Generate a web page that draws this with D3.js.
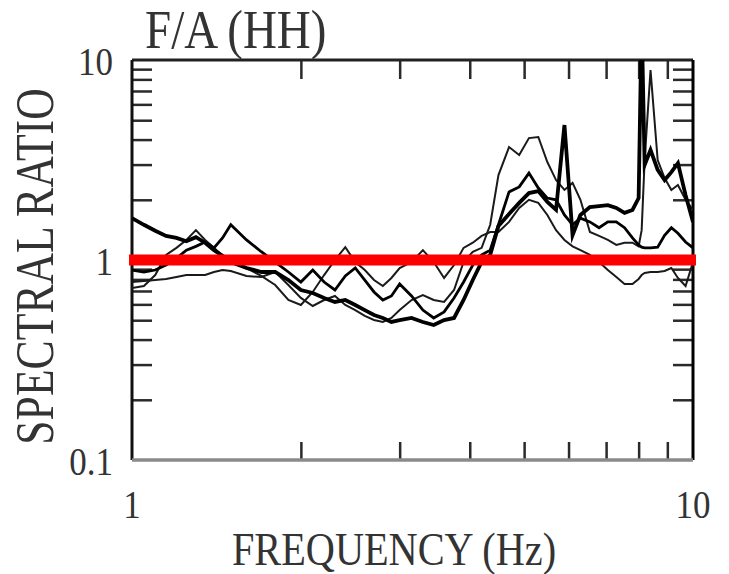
<!DOCTYPE html>
<html>
<head>
<meta charset="utf-8">
<script src="https://cdn.jsdelivr.net/npm/d3@7/dist/d3.min.js"></script>
<style>
  html, body { margin: 0; padding: 0; background: #fff; }
  svg { display: block; }
  text { font-family: "Liberation Serif", "Times New Roman", serif; fill: #333; }
</style>
</head>
<body>
<svg id="chart" width="729" height="574"></svg>
<script>
// ---- data ----
const title = "F/A (HH)";
const xLabel = "FREQUENCY (Hz)";
const yLabel = "SPECTRAL RATIO";
const xTickLabels = [1, 10];
const yTickLabels = [0.1, 1, 10];
const xMinorTicks = [2, 3, 4, 5, 6, 7, 8, 9];
const yMinorTicks = [0.2, 0.3, 0.4, 0.5, 0.6, 0.7, 0.8, 0.9, 2, 3, 4, 5, 6, 7, 8, 9];
const referenceLevel = 1;

const freqs = [1.00,1.05,1.10,1.15,1.20,1.25,1.30,1.35,1.40,1.45,1.50,
  1.60,1.70,1.80,1.90,2.00,2.10,2.20,2.30,2.40,2.50,2.60,2.70,2.80,2.90,3.00,
  3.15,3.30,3.45,3.60,3.75,3.90,4.05,4.20,4.35,4.50,
  4.70,4.90,5.10,5.30,5.50,5.70,5.90,6.10,6.30,
  6.55,6.80,7.05,7.30,7.55,7.80,
  8.00,8.10,8.20,8.40,
  8.65,8.90,9.15,9.40,
  9.70,10.0];

const series1 = [1.62,1.50,1.40,1.32,1.29,1.24,1.30,1.22,1.12,1.05,0.977,
  0.912,0.871,0.871,0.794,0.708,0.684,0.646,0.617,0.631,0.596,0.562,0.531,0.513,0.490,0.501,
  0.513,0.490,0.473,0.501,0.513,0.631,0.794,0.977,1.06,1.48,
  1.70,1.93,2.16,2.21,1.95,1.78,4.73,1.33,1.68,
  1.84,1.86,1.88,1.82,1.72,1.78,
  2.04,16,2.99,3.55,
  2.82,2.51,2.75,3.05,
  2.11,1.55];

const series2 = [0.891,0.871,0.891,0.944,1.02,1.12,1.17,1.23,1.15,1.29,1.50,
  1.26,1.10,0.977,0.871,0.776,0.891,0.776,0.708,0.832,0.912,0.794,0.692,0.631,0.661,0.759,
  0.661,0.562,0.513,0.550,0.646,0.776,0.944,1.06,1.12,1.50,
  2.19,2.32,2.72,2.29,2.04,2.00,1.68,1.50,1.62,
  1.55,1.45,1.55,1.55,1.45,1.29,
  1.19,1.16,1.15,1.15,
  1.16,1.33,1.45,1.36,
  1.23,1.15];

const series3 = [0.776,0.785,0.794,0.804,0.822,0.841,0.841,0.841,0.871,0.891,0.881,
  0.832,0.822,0.871,0.750,0.646,0.589,0.631,0.661,0.596,0.562,0.525,0.501,0.490,0.513,0.562,
  0.631,0.668,0.631,0.617,0.708,0.977,1.10,1.15,1.50,2.66,
  3.67,3.35,4.07,4.12,3.09,2.51,2.24,2.43,2.00,
  1.38,1.32,1.26,1.19,1.22,1.22,
  1.17,1.41,3.16,8.91,
  3.16,2.57,2.24,2.37,
  2.00,1.78];

const series4 = [0.724,0.741,0.841,1.06,1.15,1.26,1.41,1.26,1.15,1.05,0.977,
  0.912,0.832,0.750,0.631,0.596,0.692,0.841,1.00,1.16,0.977,0.891,0.794,0.741,0.813,0.912,
  0.977,1.12,0.977,0.813,0.944,1.15,1.22,1.32,1.38,1.38,
  1.55,1.82,2.00,1.93,1.68,1.41,1.26,1.17,1.12,
  1.06,0.977,0.891,0.822,0.759,0.759,
  0.804,0.841,0.861,0.871,
  0.871,0.881,0.912,0.813,
  0.741,0.977];

// ---- layout ----
const L = 132, R = 693, T = 60, B = 460;
const svg = d3.select("#chart");
const x = d3.scaleLog().domain([1, 10]).range([L, R]);
const y = d3.scaleLog().domain([0.1, 10]).range([B, T]);

svg.append("clipPath").attr("id", "plotclip")
  .append("rect").attr("x", L).attr("y", T).attr("width", R - L).attr("height", B - T);

// minor ticks (inward)
function styleTicks(g) {
  g.select(".domain").remove();
  g.selectAll(".tick line").attr("stroke", "#2a2a2a").attr("stroke-width", 2.5);
}
svg.append("g").attr("transform", `translate(0,${B})`)
  .call(d3.axisBottom(x).tickValues(xMinorTicks).tickSize(-18).tickFormat(""))
  .call(styleTicks);
svg.append("g").attr("transform", `translate(0,${T})`)
  .call(d3.axisTop(x).tickValues(xMinorTicks).tickSize(-19).tickFormat(""))
  .call(styleTicks);
svg.append("g").attr("transform", `translate(${L},0)`)
  .call(d3.axisLeft(y).tickValues(yMinorTicks).tickSize(-20).tickFormat(""))
  .call(styleTicks);
svg.append("g").attr("transform", `translate(${R},0)`)
  .call(d3.axisRight(y).tickValues(yMinorTicks).tickSize(-20).tickFormat(""))
  .call(styleTicks);

// frame
svg.append("line").attr("x1", L).attr("x2", R).attr("y1", T).attr("y2", T).attr("stroke", "#222").attr("stroke-width", 3);
svg.append("line").attr("x1", L).attr("x2", L).attr("y1", T).attr("y2", B).attr("stroke", "#111").attr("stroke-width", 3);
svg.append("line").attr("x1", R).attr("x2", R).attr("y1", T).attr("y2", B).attr("stroke", "#000").attr("stroke-width", 3);
svg.append("line").attr("x1", L).attr("x2", R).attr("y1", B).attr("y2", B).attr("stroke", "#8a8a8a").attr("stroke-width", 3.5);

// data lines
const line = d3.line().x((d, i) => x(freqs[i])).y(d => y(d));
const seriesDefs = [
  { data: series4, w: 2, c: "#1a1a1a" },
  { data: series3, w: 2, c: "#1a1a1a" },
  { data: series2, w: 2.8, c: "#000" },
  { data: series1, w: 3.8, c: "#000" }
];
const gl = svg.append("g").attr("clip-path", "url(#plotclip)");
seriesDefs.forEach(s => {
  gl.append("path").datum(s.data).attr("d", line)
    .attr("fill", "none").attr("stroke", s.c).attr("stroke-width", s.w)
    .attr("stroke-linejoin", "miter").attr("stroke-miterlimit", 10);
});

// reference line
svg.append("line")
  .attr("x1", x(1) - 3).attr("x2", x(10) + 3)
  .attr("y1", y(referenceLevel)).attr("y2", y(referenceLevel))
  .attr("stroke", "#ff0000").attr("stroke-width", 11);

// tick labels
const fmt = v => String(v);
yTickLabels.forEach(v => {
  svg.append("text")
    .attr("transform", `translate(113,${y(v) + 15}) scale(1,1.14)`)
    .attr("text-anchor", "end")
    .style("font-size", "35px")
    .text(fmt(v));
});
xTickLabels.forEach(v => {
  svg.append("text")
    .attr("transform", `translate(${x(v)},518) scale(1,1.14)`)
    .attr("text-anchor", "middle")
    .style("font-size", "35px")
    .text(fmt(v));
});

// title
svg.append("text")
  .attr("transform", "translate(145,48) scale(1,1.16)")
  .attr("text-anchor", "start")
  .style("font-size", "47px")
  .text(title);

// axis titles
svg.append("text")
  .attr("transform", "translate(394,565) scale(1,1.14)")
  .attr("text-anchor", "middle")
  .style("font-size", "40.3px")
  .text(xLabel);

svg.append("text")
  .attr("transform", "translate(53,266.5) rotate(-90) scale(1,1.26)")
  .attr("text-anchor", "middle")
  .style("font-size", "43.7px")
  .text(yLabel);
</script>
</body>
</html>
